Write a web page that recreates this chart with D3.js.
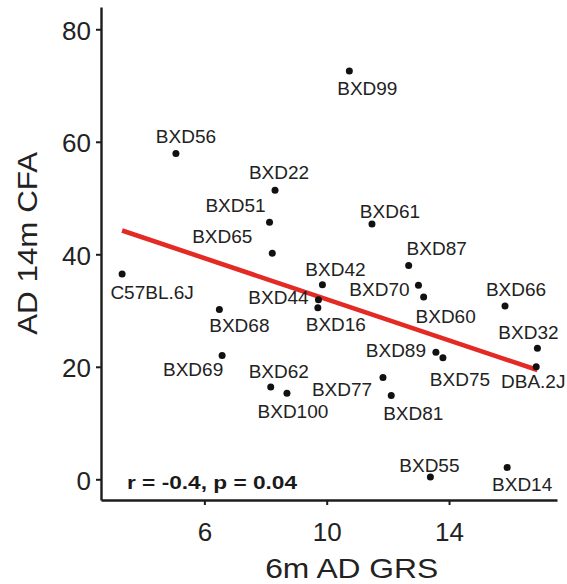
<!DOCTYPE html>
<html>
<head>
<meta charset="utf-8">
<script src="https://cdn.jsdelivr.net/npm/d3@7"></script>
<style>
  html, body { margin: 0; padding: 0; background: #fff; }
  svg { display: block; font-family: Arial, "Liberation Sans", Helvetica, sans-serif; }
</style>
</head>
<body>
<svg id="chart" width="567" height="584"></svg>
<script>
// ---- data ----
const strains = ["C57BL.6J","BXD56","BXD99","BXD22","BXD51","BXD65","BXD61","BXD87","BXD42","BXD44",
                 "BXD16","BXD68","BXD69","BXD62","BXD100","BXD77","BXD81","BXD70","BXD60","BXD66",
                 "BXD32","DBA.2J","BXD89","BXD75","BXD55","BXD14"];
const grs6m  = [3.31, 5.07, 10.74, 8.31, 8.13, 8.22, 11.48, 12.68, 9.86, 9.73,
                9.71, 6.49, 6.58, 8.17, 8.70, 11.84, 12.11, 13.00, 13.17, 15.83,
                16.89, 16.85, 13.57, 13.80, 13.39, 15.90];
const cfa14m = [36.5, 57.9, 72.6, 51.4, 45.7, 40.2, 45.4, 38.0, 34.6, 31.9,
                30.5, 30.2, 22.0, 16.4, 15.3, 18.1, 14.9, 34.5, 32.4, 30.8,
                23.3, 20.0, 22.6, 21.6, 0.4, 2.1];
const xTicks = [6, 10, 14];
const yTicks = [0, 20, 40, 60, 80];
const statsText = "r = -0.4, p = 0.04";
const xTitle = "6m AD GRS";
const yTitle = "AD 14m CFA";

// label offsets (pixels, relative to point) — layout only
const labelDx = [30, 10, 18, 4, -34, -50, 18, 28, 13, -40,
                 18, 20, -29, 8, 6, -41, 22, -39, 22, 11,
                 -9, -3, -40, 17, -1, 15];
const labelDy = [25, -11, 24, -11, -10, -10, -6, -11, -9, 4,
                 23, 23, 20, -9, 25, 19, 25, 11, 26, -10,
                 -9, 21, 5, 28, -5, 24];

// ---- drawing ----
const svg = d3.select("#chart");
const ink = "#1c1c1c";

const x = d3.scaleLinear().domain([2.62, 17.53]).range([101, 557]);
const y = d3.scaleLinear().domain([-3.68, 83.96]).range([500, 7]);

// axes
const gx = svg.append("g").attr("transform", "translate(0,500)")
  .call(d3.axisBottom(x).tickValues(xTicks).tickFormat(d3.format("d"))
        .tickSize(5).tickSizeOuter(0).tickPadding(18));
const gy = svg.append("g").attr("transform", "translate(101,0)")
  .call(d3.axisLeft(y).tickValues(yTicks).tickFormat(d3.format("d"))
        .tickSize(5).tickSizeOuter(0).tickPadding(5));

[gx, gy].forEach(g => {
  g.select(".domain").attr("stroke", ink).attr("stroke-width", 2.4);
  g.selectAll(".tick line").attr("stroke", ink).attr("stroke-width", 2);
  g.selectAll(".tick text").attr("fill", "#222").attr("font-size", 26)
    .attr("font-family", "Arial, 'Liberation Sans', sans-serif");
});
gy.selectAll(".tick text").attr("dy", "0.38em");
gx.selectAll(".tick text").attr("dy", "0.69em");

// regression line (least squares from the data)
const n = grs6m.length;
const mx = d3.mean(grs6m), my = d3.mean(cfa14m);
let sxy = 0, sxx = 0;
for (let i = 0; i < n; i++) { sxy += (grs6m[i]-mx)*(cfa14m[i]-my); sxx += (grs6m[i]-mx)**2; }
const slope = sxy / sxx, icpt = my - slope * mx;
const xr = d3.extent(grs6m);
svg.append("line")
  .attr("x1", x(xr[0])).attr("y1", y(icpt + slope*xr[0]))
  .attr("x2", x(xr[1])).attr("y2", y(icpt + slope*xr[1]))
  .attr("stroke", "#e42a24").attr("stroke-width", 4.6).attr("stroke-linecap", "butt");

// points
const data = strains.map((s, i) => ({ s, gx: grs6m[i], cy: cfa14m[i], dx: labelDx[i], dy: labelDy[i] }));
svg.append("g").selectAll("circle").data(data).join("circle")
  .attr("cx", d => x(d.gx)).attr("cy", d => y(d.cy)).attr("r", 3.5).attr("fill", "#111");

// labels
svg.append("g").selectAll("text").data(data).join("text")
  .attr("x", d => x(d.gx) + d.dx).attr("y", d => y(d.cy) + d.dy)
  .attr("text-anchor", "middle").attr("font-size", 19).attr("fill", "#222")
  .text(d => d.s);

// stats annotation
svg.append("text").attr("x", 127).attr("y", 488.5)
  .attr("font-size", 17.5).attr("font-weight", "bold").attr("fill", "#1a1a1a")
  .attr("textLength", 170).attr("lengthAdjust", "spacingAndGlyphs")
  .text(statsText);

// axis titles
svg.append("text").attr("x", 351.7).attr("y", 578)
  .attr("text-anchor", "middle").attr("font-size", 28).attr("fill", "#222")
  .attr("textLength", 173).attr("lengthAdjust", "spacingAndGlyphs")
  .text(xTitle);
svg.append("text").attr("transform", "translate(36.5,243.3) rotate(-90)")
  .attr("text-anchor", "middle").attr("font-size", 28).attr("fill", "#222")
  .attr("textLength", 183).attr("lengthAdjust", "spacingAndGlyphs")
  .text(yTitle);
</script>
</body>
</html>
